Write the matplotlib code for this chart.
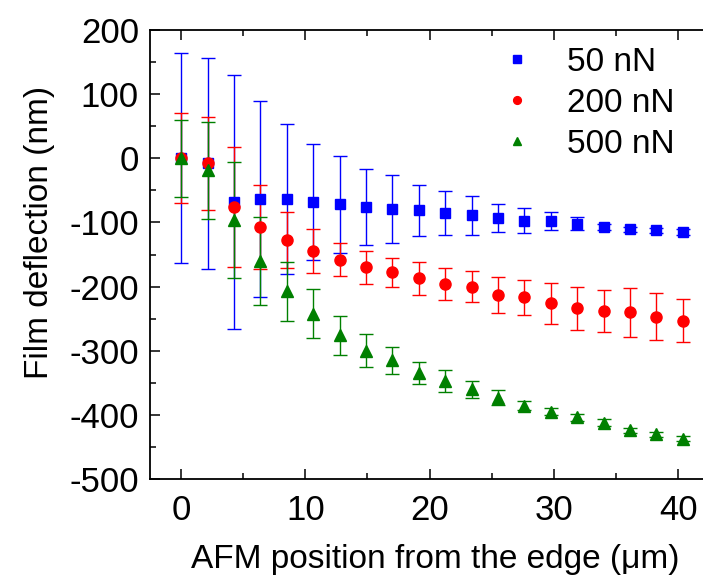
import matplotlib
matplotlib.use("Agg")
import matplotlib.pyplot as plt
from matplotlib.ticker import MultipleLocator

plt.rcParams['font.family'] = ['Liberation Sans', 'DejaVu Sans']
plt.rcParams['axes.unicode_minus'] = False

x = [0, 2.13, 4.25, 6.38, 8.5, 10.63, 12.75, 14.88, 17.0, 19.13,
     21.25, 23.38, 25.5, 27.63, 29.75, 31.88, 34.0, 36.13, 38.25, 40.38]

y50 = [0, -8, -68, -64, -64, -68, -72, -76, -79, -81,
       -85, -89, -93, -97, -98, -102, -107, -111, -112, -115]
e50 = [164, 165, 198, 153, 117, 91, 76, 59, 53, 40,
       34, 30, 22, 19, 14.5, 10, 5, 4, 4, 4]

y200 = [0, -8, -76, -107, -127, -145, -158, -170, -178, -187,
        -196, -200, -213, -217, -226, -234, -238, -240, -247, -253]
e200 = [70, 72, 93, 66, 44, 34, 25.5, 25.5, 23, 25.4,
        25.4, 23.7, 27.8, 27.8, 32.3, 34, 32.5, 38.4, 36.4, 34.1]

y500 = [0, -19, -96, -160, -207, -242, -276, -300, -315, -335,
        -347, -360, -373, -386, -395, -404, -412, -424, -430, -437]
e500 = [60, 76, 90, 68, 46, 38, 30, 26, 21, 17,
        17, 13, 11, 7, 5, 5, 5, 4, 4, 4]

labels = ['50 nN', '200 nN', '500 nN']
colors = ['#0000ff', '#ff0000', '#008000']
markers = ['s', 'o', '^']
msizes = [7.5, 8.0, 8.5]

fig = plt.figure(figsize=(7.03, 5.79), dpi=100)
ax = fig.add_axes([150/703, 1 - 479/579, 1 - 150/703, (479 - 30)/579])

series = [(y50, e50), (y200, e200), (y500, e500)]
handles = []
for (yv, ev), lab, c, m, ms in zip(series, labels, colors, markers, msizes):
    cont = ax.errorbar(x, yv, yerr=ev, fmt=m, color=c, ecolor=c, ms=ms,
                       mec=c, mfc=c, elinewidth=1.0, capsize=5, capthick=1.0,
                       label=lab)
    handles.append(cont.lines[0])

ax.set_xlim(-2.5, 42.0)
ax.set_ylim(-500, 200)
ax.xaxis.set_major_locator(MultipleLocator(10))
ax.xaxis.set_minor_locator(MultipleLocator(5))
ax.yaxis.set_major_locator(MultipleLocator(100))
ax.yaxis.set_minor_locator(MultipleLocator(50))
ax.tick_params(axis='both', which='both', direction='in', labelsize=25,
               width=1.1, top=True, right=False)
ax.tick_params(axis='both', which='major', length=7)
ax.tick_params(axis='y', which='major', pad=8)
ax.tick_params(axis='x', which='major', pad=11)
ax.tick_params(axis='both', which='minor', length=4)
for s in ['left', 'bottom', 'top']:
    ax.spines[s].set_linewidth(1.3)
ax.spines['right'].set_visible(False)

ax.set_xlabel('AFM position from the edge (μm)', fontsize=24, labelpad=12)
ax.set_ylabel('Film deflection (nm)', fontsize=24, labelpad=10)
ax.xaxis.label.set_x(0.516)
ax.yaxis.label.set_y(0.55)

leg = ax.legend(handles, labels, loc='upper left',
                bbox_to_anchor=((500 - 150) / 553, (479 - 47) / 449),
                frameon=False, fontsize=24, markerscale=0.7,
                handlelength=1.0, handletextpad=1.0, labelspacing=0.3,
                borderaxespad=0, borderpad=0)

fig.savefig('out.png', dpi=100)
